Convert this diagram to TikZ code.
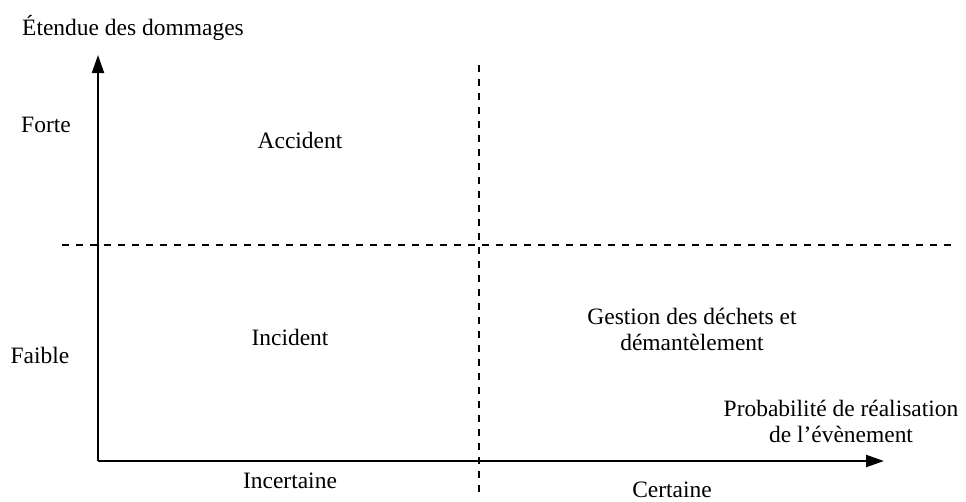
\documentclass[tikz,border=0pt]{standalone}
\usepackage{fontspec}
\setmainfont{Liberation Serif}
\usetikzlibrary{arrows.meta}
\begin{document}
\begin{tikzpicture}[x=0.75pt,y=-0.75pt,
  axis/.style={line width=1.5pt,-{Triangle[length=13.5pt,width=9pt]}},
  divider/.style={line width=1pt,dash pattern=on 5.5pt off 5pt},
  lbl/.style={font=\fontsize{17.6}{19.5}\selectfont,inner sep=0pt,anchor=base,align=center}]
\useasboundingbox (0,0) rectangle (966,501);
\coordinate (O) at (98,461);
\coordinate (ytip) at (98,55);
\coordinate (xtip) at (884,461);
\coordinate (hL) at (62,245);
\coordinate (hR) at (952,245);
\coordinate (vT) at (479,65);
\coordinate (vB) at (479,493);
\draw[divider] (hL) -- (hR);
\draw[divider] (vT) -- (vB);
\draw[axis] (O) -- (ytip);
\draw[axis] (O) -- (xtip);
\node[lbl] (ylab) at (133,35) {Étendue des dommages};
\node[lbl] (forte) at (46,132) {Forte};
\node[lbl] (faible) at (40,363) {Faible};
\node[lbl] (acc) at (300,148) {Accident};
\node[lbl] (inc) at (290,345) {Incident};
\node[lbl] (gest) at (692,350) {Gestion des déchets et\\démantèlement};
\node[lbl] (xlab) at (841,442) {Probabilité de réalisation\\de l’évènement};
\node[lbl] (incert) at (290,488) {Incertaine};
\node[lbl] (cert) at (672,497) {Certaine};
\end{tikzpicture}
\end{document}
